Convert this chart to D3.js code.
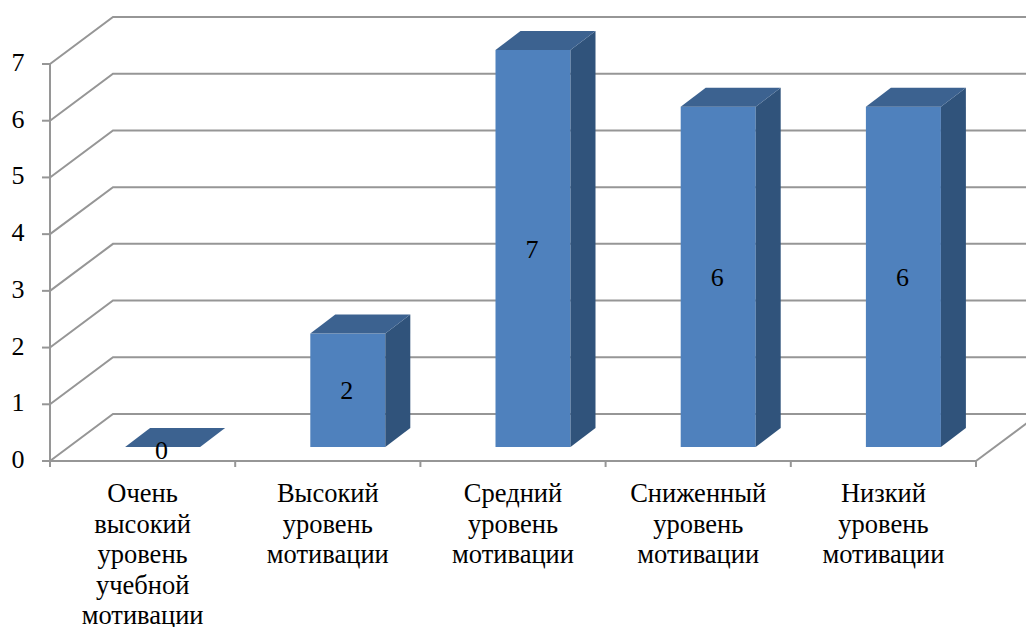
<!DOCTYPE html>
<html><head><meta charset="utf-8">
<script src="https://cdn.jsdelivr.net/npm/d3@7/dist/d3.min.js"></script>
<style>html,body{margin:0;padding:0;background:#fff}svg{display:block}text{font-family:"Liberation Serif",serif;fill:#000}</style>
</head><body><div id="c"></div>
<script>
const categories=[["Очень","высокий","уровень","учебной","мотивации"],["Высокий","уровень","мотивации"],["Средний","уровень","мотивации"],["Сниженный","уровень","мотивации"],["Низкий","уровень","мотивации"]];
const values=[0,2,7,6,6];
const yTicks=[0,1,2,3,4,5,6,7];

const W=1026,H=627;
const svg=d3.select("#c").append("svg").attr("width",W).attr("height",H);
const x=d3.scaleBand().domain(d3.range(categories.length)).range([50,976]);
const y=d3.scaleLinear().domain([0,7]).range([461,64]);
const wallDx=63,wallDy=-47, barDx=25,barDy=-19, barFrontDy=-14, barW=75, barShift=20;
const grey="#969696";
const gridG=svg.append("g").attr("fill","none").attr("stroke",grey).attr("stroke-width",2);
yTicks.forEach(t=>{
  const yy=y(t);
  gridG.append("path").attr("d",`M${x.range()[0]},${yy}L${x.range()[0]+wallDx},${yy+wallDy}L${W+5},${yy+wallDy}`);
});
// floor right edge
gridG.append("path").attr("d",`M976,${y(0)}L${976+wallDx},${y(0)+wallDy}`);
// front axes
gridG.append("path").attr("d",`M50,${y(7)}L50,${y(0)}L976,${y(0)}`);
yTicks.forEach(t=>gridG.append("path").attr("d",`M42,${y(t)}L50,${y(t)}`));
x.domain().concat([categories.length]).forEach(i=>{
  const xx=i<categories.length?x(i):x.range()[1];
  gridG.append("path").attr("d",`M${xx},${y(0)}L${xx},${y(0)+6}`);
});
// y labels
svg.append("g").selectAll("text").data(yTicks).join("text")
 .attr("x",18).attr("y",d=>y(d)+7).attr("text-anchor","middle").attr("font-size",26).text(d=>d);
// bars
const bars=svg.append("g").selectAll("g").data(values).join("g");
const bx=i=>x(i)+x.bandwidth()/2+barShift-barW/2;
const by=d=>y(d)+barFrontDy;
bars.append("rect").attr("x",(d,i)=>bx(i)).attr("y",d=>by(d)).attr("width",barW).attr("height",d=>by(0)-by(d)).attr("fill","#4f81bd");
bars.append("path").attr("fill","#30537b").attr("d",(d,i)=>{
  const a=bx(i)+barW;return `M${a},${by(d)}L${a+barDx},${by(d)+barDy}L${a+barDx},${by(0)+barDy}L${a},${by(0)}Z`;});
bars.append("path").attr("fill","#3c6290").attr("d",(d,i)=>{
  const a=bx(i);return `M${a},${by(d)}L${a+barDx},${by(d)+barDy}L${a+barW+barDx},${by(d)+barDy}L${a+barW},${by(d)}Z`;});
bars.append("text").attr("x",(d,i)=>bx(i)+barW/2-1).attr("y",d=>(by(d)+by(0))/2+9+(d===0?3:0)).attr("text-anchor","middle").attr("font-size",26).text(d=>d);
// category labels
const lab=svg.append("g").selectAll("text").data(categories).join("text").attr("text-anchor","middle").attr("font-size",26.5);
lab.each(function(d,i){
  d3.select(this).selectAll("tspan").data(d).join("tspan")
    .attr("x",x(i)+x.bandwidth()/2).attr("y",(_,j)=>502+j*30.6).text(t=>t);
});
</script></body></html>
